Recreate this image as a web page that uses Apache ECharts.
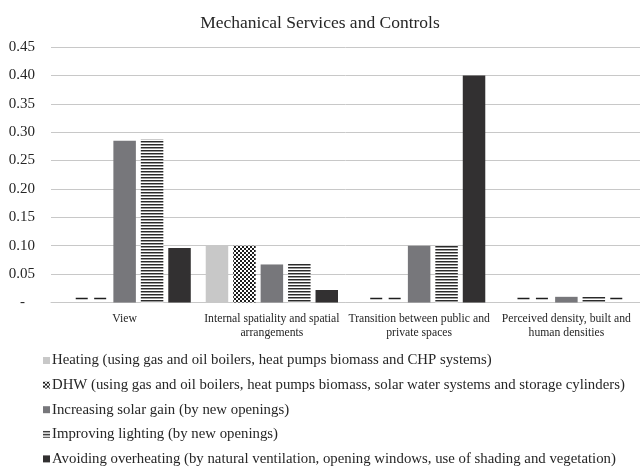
<!DOCTYPE html>
<html>
<head>
<meta charset="utf-8">
<script src="https://cdn.jsdelivr.net/npm/echarts@6/dist/echarts.min.js"></script>
<style>html,body{margin:0;padding:0;background:#fff}#c{width:640px;height:468px}</style>
</head>
<body>
<div id="c"></div>
<script>
const categories = [
  "View",
  "Internal spatiality and spatial\narrangements",
  "Transition between public and\nprivate spaces",
  "Perceived density, built and\nhuman densities"
];
const seriesNames = [
  "Heating (using gas and oil boilers, heat pumps biomass and CHP systems)",
  "DHW (using gas and oil boilers, heat pumps biomass, solar water systems and storage cylinders)",
  "Increasing solar gain (by new openings)",
  "Improving lighting (by new openings)",
  "Avoiding overheating (by natural ventilation, opening windows, use of shading and vegetation)"
];
const heating = [0, 0.10, 0, 0];
const dhw = [0, 0.10, 0, 0];
const solarGain = [0.285, 0.067, 0.10, 0.01];
const lighting = [0.287, 0.068, 0.10, 0.01];
const overheating = [0.096, 0.022, 0.40, 0];
const yTicks = [0, 0.05, 0.10, 0.15, 0.20, 0.25, 0.30, 0.35, 0.40, 0.45];

function makePattern(type) {
  const cv = document.createElement('canvas');
  const ctx = cv.getContext('2d');
  if (type === 'checker') {
    cv.width = 4; cv.height = 4;
    ctx.fillStyle = '#ffffff'; ctx.fillRect(0, 0, 4, 4);
    ctx.fillStyle = '#1e1e1e';
    ctx.fillRect(0, 0, 2, 2); ctx.fillRect(2, 2, 2, 2);
  } else {
    cv.width = 4; cv.height = 3;
    ctx.fillStyle = '#ffffff'; ctx.fillRect(0, 0, 4, 3);
    ctx.fillStyle = '#2a2a2a'; ctx.fillRect(0, 0, 4, 1);
    ctx.fillStyle = '#9a9a9a'; ctx.fillRect(0, 1, 4, 1);
  }
  return { image: cv, repeat: 'repeat' };
}

const FONT = "'Liberation Serif', 'Times New Roman', serif";
const colors = ['#c8c8c8', makePattern('checker'), '#77777b', makePattern('stripes'), '#323031'];
const dataSets = [heating, dhw, solarGain, lighting, overheating];
const dashOffsets = [[12, -4], [3, -4], [0, -4], [0, -4], [-5, -4]];

const chart = echarts.init(document.getElementById('c'), null, { renderer: 'canvas' });
chart.setOption({
  animation: false,
  backgroundColor: '#ffffff',
  title: {
    text: 'Mechanical Services and Controls',
    left: 'center', top: 9,
    textStyle: { fontFamily: FONT, fontSize: 17.5, fontWeight: 'normal', color: '#262626' }
  },
  grid: { left: 51, top: 47, width: 596, height: 255.5, containLabel: false },
  legend: {
    orient: 'vertical', left: 43, top: 353, height: 300, padding: 0,
    icon: 'rect', itemWidth: 7, itemHeight: 7, itemGap: 9.6,
    textStyle: { fontFamily: FONT, fontSize: 14.8, color: '#262626', lineHeight: 14, padding: [0, 0, 0, -3] },
    data: seriesNames
  },
  xAxis: {
    type: 'category', data: categories,
    axisLine: { show: true, lineStyle: { color: '#c8c8c8', width: 1 } },
    axisTick: { show: false },
    axisLabel: { fontFamily: FONT, fontSize: 11.7, color: '#262626', margin: 9, lineHeight: 14, interval: 0 }
  },
  yAxis: {
    type: 'value', min: 0, max: 0.45, interval: 0.05,
    axisLine: { show: false }, axisTick: { show: false },
    splitLine: { lineStyle: { color: '#c8c8c8', width: 1 } },
    axisLabel: {
      fontFamily: FONT, fontSize: 15, color: '#262626', margin: 16,
      formatter: function (v) {
        const t = yTicks.find(x => Math.abs(x - v) < 1e-9);
        if (t === 0) return '{d|-}';
        return (t !== undefined ? t : v).toFixed(2);
      },
      rich: { d: { fontFamily: FONT, fontSize: 15, color: '#262626', padding: [0, 10, 0, 0] } }
    }
  },
  series: seriesNames.map((name, i) => ({
    name: name,
    type: 'bar',
    data: dataSets[i],
    barWidth: 22.5,
    barGap: '22%',
    itemStyle: { color: colors[i] },
    label: {
      show: true, position: 'inside', offset: dashOffsets[i],
      formatter: p => (p.value === 0 ? '{d|}' : ''),
      rich: { d: { width: 12, height: 1.5, backgroundColor: '#1e1e1e' } }
    }
  }))
});
</script>
</body>
</html>
